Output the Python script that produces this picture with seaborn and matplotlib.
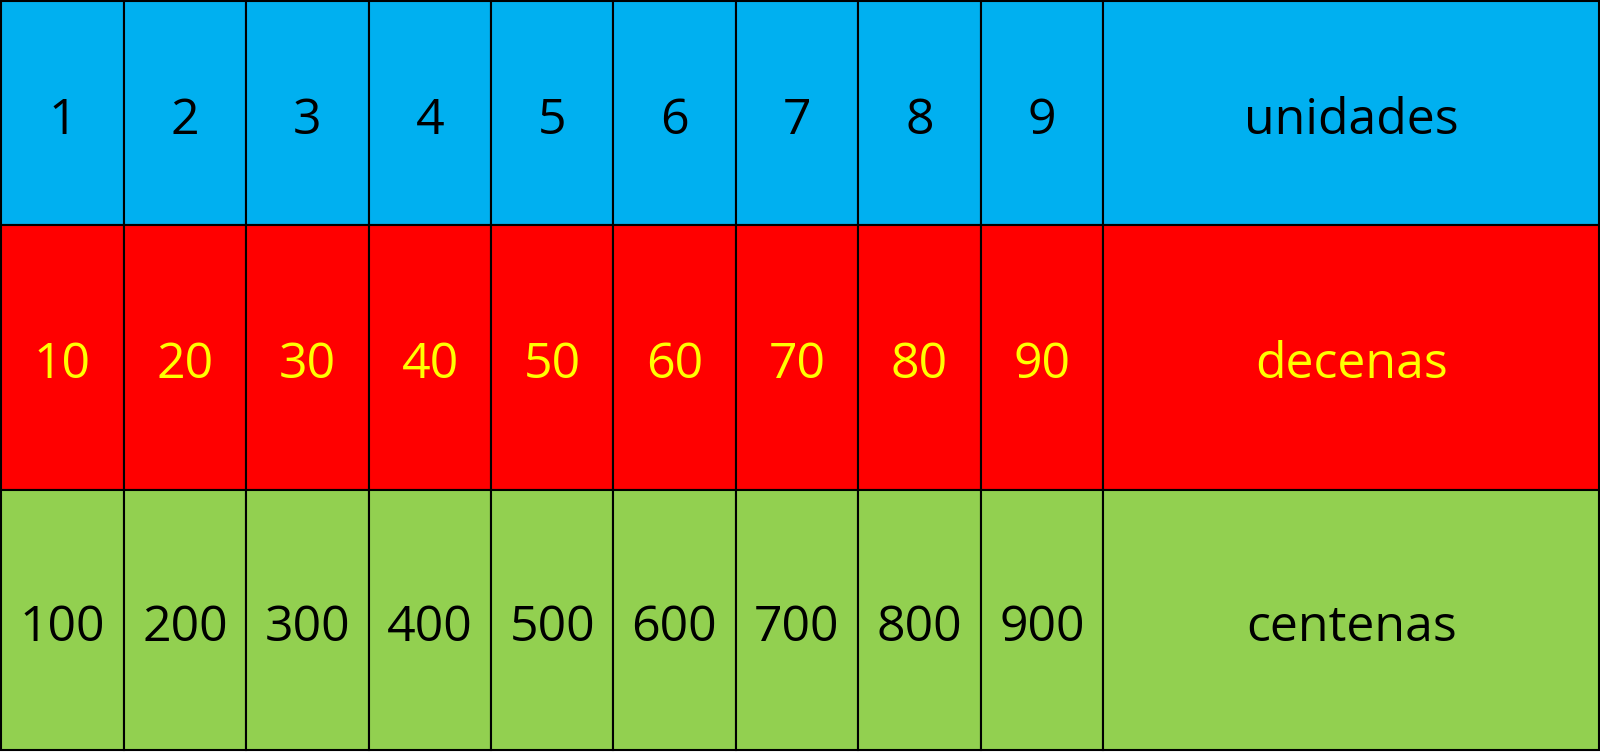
import matplotlib
matplotlib.use("Agg")
import matplotlib.pyplot as plt
import seaborn as sns
import numpy as np

units = ["1","2","3","4","5","6","7","8","9"]
tens = ["10","20","30","40","50","60","70","80","90"]
hundreds = ["100","200","300","400","500","600","700","800","900"]
row_names = ["unidades", "decenas", "centenas"]
row_colors = ["#00b0f0", "#ff0000", "#92d050"]
text_colors = ["black", "#ffff00", "black"]
S = 1600 / 1566
col_edges = [v * S for v in [1, 121, 241, 361, 481, 600, 720, 840, 960, 1080, 1565]]
row_edges = [v * S for v in [1, 220, 480, 734]]

sns.set_theme(style="white")
plt.rcParams['font.family'] = ['Open Sans', 'DejaVu Sans']
fig = plt.figure(figsize=(16, 7.52), dpi=100)
ax = fig.add_axes([0, 0, 1, 1])
ax.set_xlim(0, 1600)
ax.set_ylim(752, 0)
ax.axis("off")

rows = [units, tens, hundreds]
for r, vals in enumerate(rows):
    labels = vals + [row_names[r]]
    y0, y1 = row_edges[r], row_edges[r+1]
    for c, lab in enumerate(labels):
        x0, x1 = col_edges[c], col_edges[c+1]
        ax.add_patch(plt.Rectangle((x0, y0), x1-x0, y1-y0, facecolor=row_colors[r],
                                   edgecolor="black", linewidth=1.5))
        ax.text((x0+x1)/2, (y0+y1)/2 + 8, lab, ha="center", va="center",
                fontsize=36, color=text_colors[r])

fig.savefig("out.png", dpi=100)
